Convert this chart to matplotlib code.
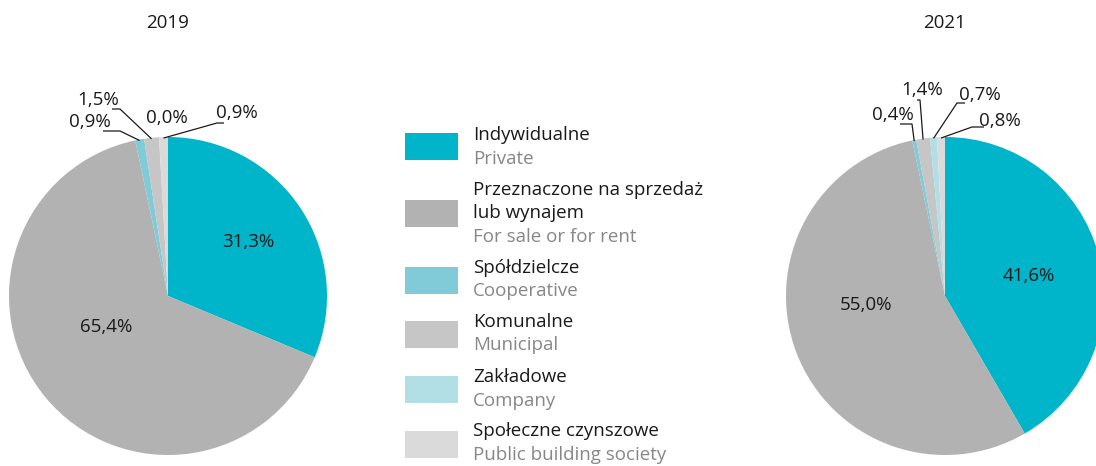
import numpy as np
import matplotlib.pyplot as plt
from matplotlib.patches import Rectangle

plt.rcParams['font.family'] = ['Open Sans', 'DejaVu Sans']

# data
years = ["2019", "2021"]
labels_pl = ["Indywidualne", "Przeznaczone na sprzedaż\nlub wynajem", "Spółdzielcze",
             "Komunalne", "Zakładowe", "Społeczne czynszowe"]
labels_en = ["Private", "For sale or for rent", "Cooperative", "Municipal",
             "Company", "Public building society"]
values_2019 = [31.3, 65.4, 0.9, 1.5, 0.0, 0.9]
values_2021 = [41.6, 55.0, 0.4, 1.4, 0.7, 0.8]
colors = ["#00b5c9", "#b2b2b2", "#80cbd7", "#c6c6c6", "#b2dfe6", "#dadada"]

W, H = 1096, 466
fig = plt.figure(figsize=(W / 100, H / 100), dpi=100)
ax = fig.add_axes([0, 0, 1, 1])

DARK = "#1a1a1a"
GREY = "#878787"
FS = 13.5


def Y(y):
    return H - y


def draw_pie(values, cx, cy, r, big_pos, small_layout):
    ax.pie(values, colors=colors, startangle=90, counterclock=False,
           center=(cx, Y(cy)), radius=r, wedgeprops=dict(linewidth=0))
    total = sum(values)
    cum = np.cumsum([0] + values[:-1])
    for i, v in enumerate(values):
        txt = f"{v:.1f}%".replace(".", ",")
        if i in big_pos:
            x, y = big_pos[i]
            ax.text(x, Y(y), txt, ha='center', va='center', fontsize=FS, color=DARK)
            continue
        tx, ty, pts = small_layout[i]
        ax.text(tx, Y(ty), txt, ha='center', va='center', fontsize=FS, color=DARK)
        if pts:
            # leader line ends on the outer edge at the wedge's middle angle
            theta = np.deg2rad(90 - 360 * (cum[i] + v / 2) / total)
            ax_x = cx + r * np.cos(theta)
            ax_y = Y(cy) + r * np.sin(theta) - 1
            xs = [p[0] for p in pts] + [ax_x]
            ys = [Y(p[1]) for p in pts] + [ax_y]
            ax.plot(xs, ys, color=DARK, lw=0.9, solid_capstyle='butt')


draw_pie(values_2019, 168, 296, 159,
         {0: (248, 242), 1: (106, 327)},
         {2: (90, 122, [(103, 131), (120, 131)]),
          3: (98, 100, [(112, 109), (120, 109)]),
          4: (167, 118, []),
          5: (237, 113, [(224, 123), (217, 123)])})
draw_pie(values_2021, 945, 296, 159,
         {0: (1029, 276), 1: (866, 305)},
         {2: (893, 115, [(900, 124), (912, 124)]),
          3: (922, 90, [(917, 100), (920, 100)]),
          4: (980, 95, [(965, 103), (957, 103)]),
          5: (1000, 121, [(984, 127), (972, 127)])})

ax.text(168, Y(23), years[0], ha='center', va='center', fontsize=FS, color=DARK)
ax.text(945, Y(23), years[1], ha='center', va='center', fontsize=FS, color=DARK)

# legend
patch_y = [146, 213, 280, 334, 389, 444]
text_top = [135, 190, 268, 322, 377, 431]
for i in range(len(labels_pl)):
    ax.add_patch(Rectangle((405, Y(patch_y[i] + 13.5)), 53, 27, color=colors[i], lw=0))
    lines = labels_pl[i].split("\n")
    y = text_top[i]
    for ln in lines:
        ax.text(473, Y(y), ln, ha='left', va='center', fontsize=FS, color=DARK)
        y += 23.5
    ax.text(473, Y(y), labels_en[i], ha='left', va='center', fontsize=FS, color=GREY)

ax.set_xlim(0, W)
ax.set_ylim(0, H)
ax.set_aspect('equal')
ax.axis('off')

fig.savefig("out.png", dpi=100)
